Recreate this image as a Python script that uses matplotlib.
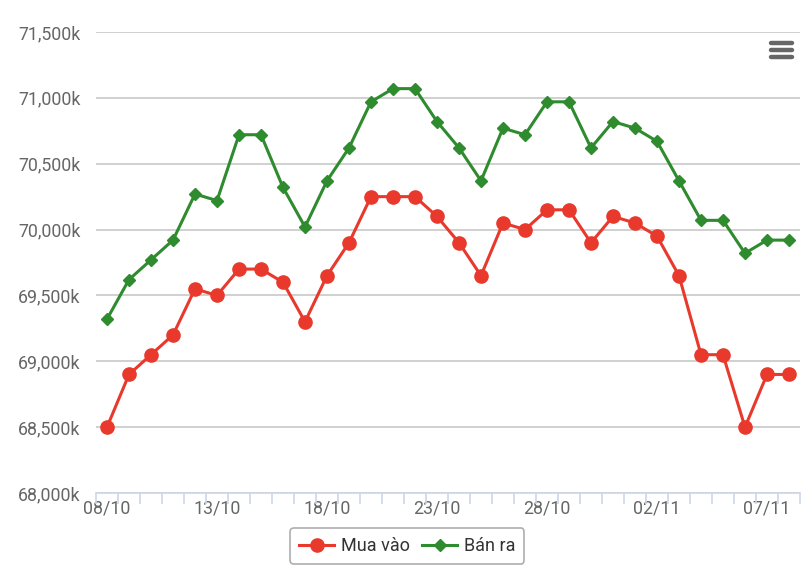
import matplotlib
matplotlib.use("Agg")
import matplotlib.pyplot as plt
from matplotlib.ticker import FuncFormatter, MultipleLocator, FixedLocator
from matplotlib.lines import Line2D

plt.rcParams['font.family'] = ['Roboto', 'DejaVu Sans']

dates = ['08/10', '09/10', '10/10', '11/10', '12/10', '13/10', '14/10', '15/10',
         '16/10', '17/10', '18/10', '19/10', '20/10', '21/10', '22/10', '23/10',
         '24/10', '25/10', '26/10', '27/10', '28/10', '29/10', '30/10', '31/10',
         '01/11', '02/11', '03/11', '04/11', '05/11', '06/11', '07/11', '08/11']
mua_vao = [68500, 68900, 69050, 69200, 69550, 69500, 69700, 69700,
           69600, 69300, 69650, 69900, 70250, 70250, 70250, 70100,
           69900, 69650, 70050, 70000, 70150, 70150, 69900, 70100,
           70050, 69950, 69650, 69050, 69050, 68500, 68900, 68900]
ban_ra = [69320, 69620, 69770, 69920, 70270, 70220, 70720, 70720,
          70320, 70020, 70370, 70620, 70970, 71070, 71070, 70820,
          70620, 70370, 70770, 70720, 70970, 70970, 70620, 70820,
          70770, 70670, 70370, 70070, 70070, 69820, 69920, 69920]

red = '#e8392c'
green = '#2e8b2e'

W, H = 810, 578
fig = plt.figure(figsize=(W / 100, H / 100), dpi=100)
ax = fig.add_axes([96 / W, 1 - 493 / H, (800 - 96) / W, (493 - 32) / H])

x = list(range(len(dates)))
ax.plot(x, mua_vao, color=red, lw=2.2, marker='o', ms=9.5, label='Mua vào', zorder=3)
ax.plot(x, ban_ra, color=green, lw=2.2, marker='D', ms=6.5, label='Bán ra', zorder=3)

ax.set_xlim(-0.5, len(dates) - 0.5)
ax.set_ylim(68000, 71500)
ax.yaxis.set_major_locator(MultipleLocator(500))
ax.yaxis.set_major_formatter(FuncFormatter(lambda v, p: '{:,.0f}k'.format(v)))
ax.grid(axis='y', color='#c8c8c8', lw=1.2)
ax.set_axisbelow(True)

for s in ['top', 'right', 'left']:
    ax.spines[s].set_visible(False)
ax.spines['bottom'].set_color('#ccd6eb')
ax.spines['bottom'].set_linewidth(1.2)

# labels every 5 days, tick marks at category edges
ax.set_xticks(x[::5])
ax.set_xticklabels(dates[::5])
ax.xaxis.set_minor_locator(FixedLocator([i - 0.5 for i in range(len(dates) + 1)]))
ax.tick_params(axis='x', which='major', length=0, pad=5, labelsize=12.8, labelcolor='#666666')
ax.tick_params(axis='x', which='minor', length=8, color='#ccd6eb', width=1.2)
ax.tick_params(axis='y', length=0, pad=11, labelsize=12.8, labelcolor='#666666')

leg = fig.legend(loc='upper center', bbox_to_anchor=(0.503, 1 - 528 / H), ncol=2, frameon=True,
                 fontsize=13, handlelength=1.9, columnspacing=0.7, handletextpad=0.4,
                 borderpad=0.5, borderaxespad=0, fancybox=True)
leg.get_frame().set_edgecolor('#999999')
leg.get_frame().set_linewidth(1.2)
for t in leg.get_texts():
    t.set_color('#333333')

# menu icon
for yy in [43, 50, 57]:
    fig.add_artist(Line2D([771 / W, 792 / W], [1 - yy / H, 1 - yy / H],
                          color='#666666', lw=3.2, solid_capstyle='round'))

fig.savefig('out.png', dpi=100)
